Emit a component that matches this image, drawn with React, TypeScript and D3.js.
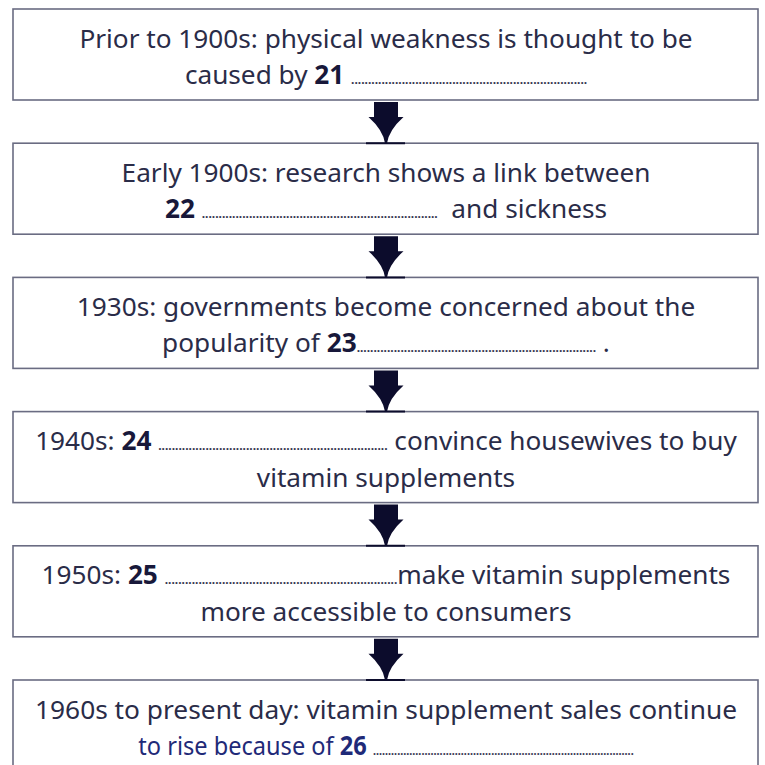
import React from "react";
import * as d3 from "d3";

// ---- content ----
type Seg = { kind: "t" | "b" | "d"; text?: string; n?: number; blue?: boolean };
const stages = ["Prior to 1900s", "Early 1900s", "1930s", "1940s", "1950s", "1960s to present day"];
const questionNumbers = ["21", "22", "23", "24", "25", "26"];

const box1Lines: Seg[][] = [
  [{ kind: "t", text: "Prior to 1900s: physical weakness is thought to be" }],
  [{ kind: "t", text: "caused by " }, { kind: "b", text: "21 " }, { kind: "d", n: 70 }],
];
const box2Lines: Seg[][] = [
  [{ kind: "t", text: "Early 1900s: research shows a link between" }],
  [{ kind: "b", text: "22 " }, { kind: "d", n: 70 }, { kind: "t", text: "  and sickness" }],
];
const box3Lines: Seg[][] = [
  [{ kind: "t", text: "1930s: governments become concerned about the" }],
  [{ kind: "t", text: "popularity of " }, { kind: "b", text: "23" }, { kind: "d", n: 71 }, { kind: "t", text: " ." }],
];
const box4Lines: Seg[][] = [
  [{ kind: "t", text: "1940s: " }, { kind: "b", text: "24 " }, { kind: "d", n: 68 }, { kind: "t", text: " convince housewives to buy" }],
  [{ kind: "t", text: "vitamin supplements" }],
];
const box5Lines: Seg[][] = [
  [{ kind: "t", text: "1950s: " }, { kind: "b", text: "25 " }, { kind: "d", n: 69 }, { kind: "t", text: "make vitamin supplements" }],
  [{ kind: "t", text: "more accessible to consumers" }],
];
const box6Lines: Seg[][] = [
  [{ kind: "t", text: "1960s to present day: vitamin supplement sales continue" }],
  [{ kind: "t", text: "to rise because of ", blue: true }, { kind: "b", text: "26 ", blue: true }, { kind: "d", n: 86 }],
];
const boxes = [box1Lines, box2Lines, box3Lines, box4Lines, box5Lines, box6Lines];

// ---- layout ----
const W = 765;
const H = 765;
const boxLeft = 13;
const boxRight = 758;
const boxH = 91;
const cx = 386;
const FS = 26.2;
const FONT = "'Noto Sans', 'Open Sans', sans-serif";
const TEXT = "#2a2c48";
const BOLD = "#18183a";
const BLUE = "#1f2a78";
const DOTS = "#34354f";
const ARROW = "#0c0c2c";

const yTop = d3.scaleLinear().domain([0, boxes.length - 1]).range([9, 680]);

function arrowPath(y0: number, y1: number) {
  const p = d3.path();
  p.moveTo(cx - 12, y0 + 2);
  p.lineTo(cx + 12, y0 + 2);
  p.lineTo(cx + 12, y0 + 17);
  p.lineTo(cx + 17.5, y0 + 17);
  p.quadraticCurveTo(cx + 3, y0 + 30, cx + 1, y1);
  p.lineTo(cx - 1, y1);
  p.quadraticCurveTo(cx - 3, y0 + 30, cx - 17.5, y0 + 17);
  p.lineTo(cx - 12, y0 + 17);
  p.closePath();
  return p.toString();
}

function renderSeg(s: Seg, k: number) {
  if (s.kind === "d") {
    return (
      <tspan key={k} fontSize={12} fontWeight={700} fill={DOTS}>
        {".".repeat(s.n || 0)}
      </tspan>
    );
  }
  if (s.kind === "b") {
    return (
      <tspan key={k} fontWeight={700} fill={s.blue ? BLUE : BOLD}>
        {s.text}
      </tspan>
    );
  }
  return (
    <tspan key={k} fill={s.blue ? BLUE : TEXT}>
      {s.text}
    </tspan>
  );
}

export default function App() {
  return (
    <svg
      width={W}
      height={H}
      viewBox={`0 0 ${W} ${H}`}
      style={{ position: "absolute", left: 0, top: 0, background: "#fff" }}
    >
      <rect x={0} y={0} width={W} height={H} fill="#fff" />
      {boxes.map((lines, i) => {
        const top = yTop(i);
        return (
          <g key={stages[i]} data-q={questionNumbers[i]}>
            <rect
              x={boxLeft}
              y={top}
              width={boxRight - boxLeft}
              height={boxH}
              fill="#fff"
              stroke="#6a6c82"
              strokeWidth={1.6}
            />
            {lines.map((segs, j) => {
              const last = i === boxes.length - 1;
              const y = top + 38.5 + j * 36.5;
              if (last && j === 0) {
                return (
                  <text
                    key={j}
                    x={cx}
                    y={y}
                    textAnchor="middle"
                    fontFamily={FONT}
                    fontSize={FS}
                    style={{ whiteSpace: "pre" }}
                    textLength={702}
                    lengthAdjust="spacingAndGlyphs"
                  >
                    {segs.map(renderSeg)}
                  </text>
                );
              }
              if (last) {
                return (
                  <g key={j} transform={`translate(${cx},${y}) scale(0.9,1)`}>
                    <text
                      x={0}
                      y={0}
                      textAnchor="middle"
                      fontFamily={FONT}
                      fontSize={FS}
                      style={{ whiteSpace: "pre" }}
                    >
                      {segs.map(renderSeg)}
                    </text>
                  </g>
                );
              }
              return (
                <text
                  key={j}
                  x={cx}
                  y={y}
                  textAnchor="middle"
                  fontFamily={FONT}
                  fontSize={FS}
                  style={{ whiteSpace: "pre" }}
                >
                  {segs.map(renderSeg)}
                </text>
              );
            })}
          </g>
        );
      })}
      {boxes.slice(0, -1).map((_, i) => {
        const y0 = yTop(i) + boxH;
        const y1 = yTop(i + 1);
        return (
          <g key={"a" + i}>
            <line x1={cx - 20} x2={cx + 19} y1={y1} y2={y1} stroke={ARROW} strokeWidth={2} />
            <path d={arrowPath(y0, y1)} fill={ARROW} />
          </g>
        );
      })}
    </svg>
  );
}
